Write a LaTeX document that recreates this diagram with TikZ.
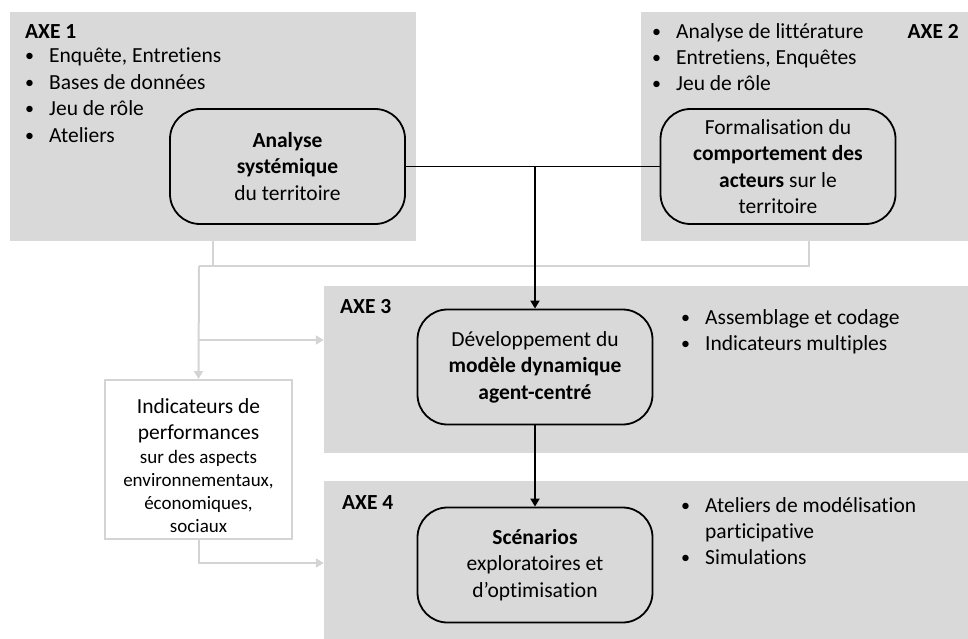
\documentclass[tikz,border=0pt]{standalone}
\usepackage{fontspec}
\setmainfont{Carlito}[Ligatures=CommonOff]
\usepackage{xcolor}
\usepackage{tikz}
\usetikzlibrary{arrows.meta}

\definecolor{axegray}{HTML}{D9D9D9}
\definecolor{linkgray}{HTML}{D4D4D4}
\newcommand{\puce}{\makebox[24pt][l]{\raisebox{1pt}{\fontsize{18}{20}\selectfont•}}}

\tikzset{
    axebox/.style={fill=axegray, inner sep=0pt},
    etape/.style={draw, line width=1.8pt, rounded corners=30pt, minimum width=235pt,
        minimum height=115pt, align=center, inner sep=2pt},
    titre/.style={font=\fontsize{21.5}{26.4}\selectfont\bfseries, inner sep=0pt},
    liste/.style={align=left, anchor=north west, inner sep=0pt},
    lien/.style={line width=1.9pt},
    liengris/.style={draw=linkgray, line width=2pt}
}

\begin{document}
\begin{tikzpicture}[x=1pt, y=-1pt, font=\fontsize{21.5}{26.4}\selectfont,
        >={Triangle[length=8pt,width=9pt]}]
        \useasboundingbox (0,0) rectangle (968,639);

        \node[axebox, minimum width=406pt, minimum height=229pt] (axe1) at (213,126.5) {};
        \node[axebox, minimum width=336pt, minimum height=229pt] (axe2) at (809,126.5) {};
        \node[axebox, minimum width=653pt, minimum height=167pt] (axe3) at (650.5,369.5) {};
        \node[axebox, minimum width=653pt, minimum height=160pt] (axe4) at (650.5,561) {};

        \node[titre, anchor=base west] (axe1lbl) at (25,39) {AXE 1};
        \node[titre, anchor=base east] (axe2lbl) at (959,39) {AXE 2};
        \node[titre, anchor=base west] (axe3lbl) at (340,313) {AXE 3};
        \node[titre, anchor=base west] (axe4lbl) at (342,509) {AXE 4};

        \node[liste] (liste1) at (25,48) {\puce Enquête, Entretiens\\\puce Bases de données\\
            \puce Jeu de rôle\\\puce Ateliers};
        \node[liste] (liste2) at (652,23) {\puce Analyse de littérature\\\puce Entretiens, Enquêtes\\
            \puce Jeu de rôle};
        \node[liste] (liste3) at (681,309) {\puce Assemblage et codage\\\puce Indicateurs multiples};
        \node[liste] (liste4) at (681,497) {\puce Ateliers de modélisation\\\hspace*{24pt}participative\\
            \puce Simulations};

        \node[etape] (analyse) at (287.5,166.5) {\textbf{Analyse}\\\textbf{systémique}\\du territoire};
        \node[etape] (formal) at (778,166.5) {Formalisation du\\\textbf{comportement des}\\
            \textbf{acteurs} sur le\\territoire};
        \node[etape] (dev) at (535,367) {Développement du\\\textbf{modèle dynamique}\\\textbf{agent-centré}};
        \node[etape] (scen) at (535,565) {\textbf{Scénarios}\\exploratoires et\\d’optimisation};

        \node[draw=linkgray, line width=2pt, fill=white, minimum width=187pt, minimum height=159pt,
            align=center, inner sep=0pt, font=\fontsize{19}{23}\selectfont] (indic) at (198.5,459.5)
            {\rule{0pt}{27pt}{\fontsize{21.5}{26.4}\selectfont Indicateurs de}\\[3pt]
            {\fontsize{21.5}{26.4}\selectfont performances}\\[1.5pt]
            sur des aspects\\environnementaux,\\économiques,\\sociaux};

        \coordinate (merge) at (199,266);
        \coordinate (fork) at (199,340);
        \coordinate (bas) at (199,563);
        \coordinate (croix) at (analyse.east -| dev.north);

        \draw[liengris] (axe1.south) |- (merge);
        \draw[liengris] (axe2.south) |- (merge);
        \draw[liengris, ->] (merge) -- (indic.north);
        \draw[liengris, ->] (fork) -- (axe3.west |- fork);
        \draw[liengris, ->] (indic.south) |- (axe4.west |- bas);

        \draw[lien] (analyse.east) -- (formal.west);
        \draw[lien, ->] (croix) -- (dev.north);
        \draw[lien, ->] (dev) -- (scen);
\end{tikzpicture}
\end{document}
